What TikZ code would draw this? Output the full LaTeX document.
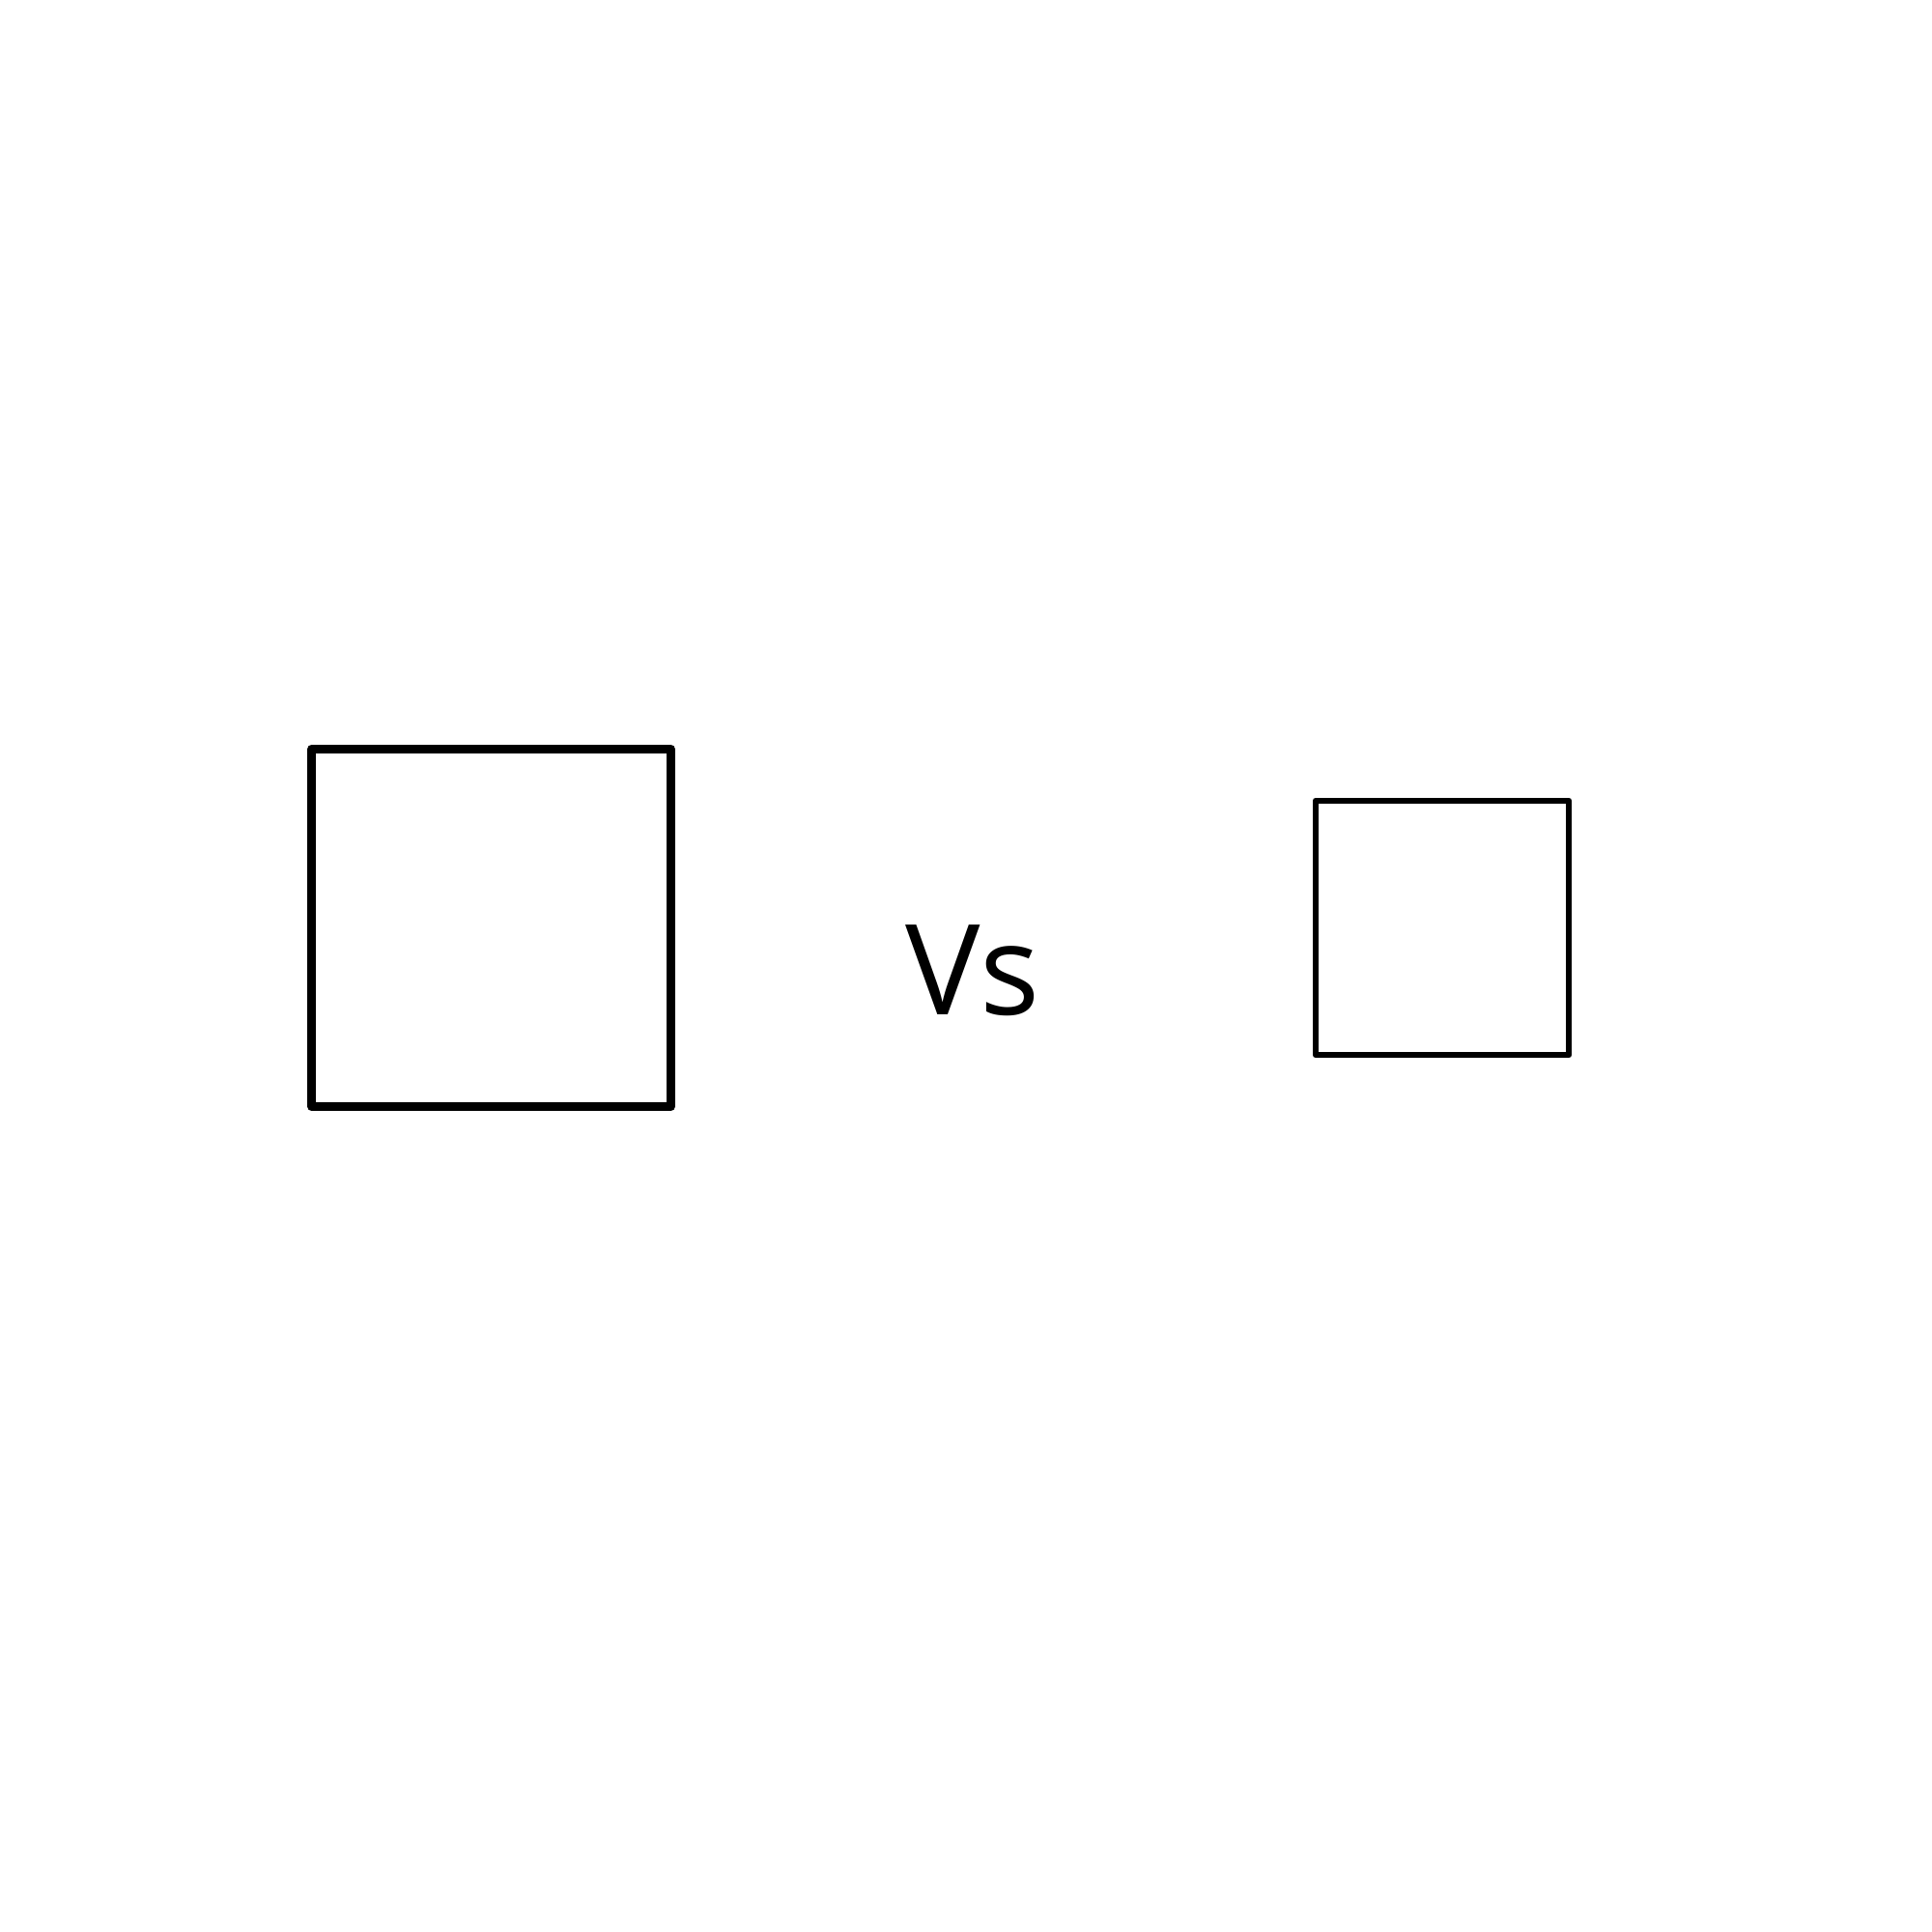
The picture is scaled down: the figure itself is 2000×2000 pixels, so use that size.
\documentclass[tikz,border=0pt]{standalone}
\usepackage{fontspec}
\setmainfont{Open Sans}
\begin{document}
\begin{tikzpicture}[x=0.01cm,y=-0.01cm,
  bigbox/.style={draw=black,line width=2.6pt,line join=round,minimum width=3.71cm,minimum height=3.70cm,inner sep=0pt},
  smallbox/.style={draw=black,line width=1.9pt,line join=round,minimum width=2.62cm,minimum height=2.63cm,inner sep=0pt},
  label/.style={font=\fontsize{37}{44}\selectfont,inner sep=0pt,anchor=base}]
\useasboundingbox (0,0) rectangle (2000,2000);
\node[bigbox] (left) at (508.5,960.5) {};
\node[smallbox] (right) at (1493,960.5) {};
\node[label] (vs) at (1007,1050) {Vs};
\end{tikzpicture}
\end{document}
